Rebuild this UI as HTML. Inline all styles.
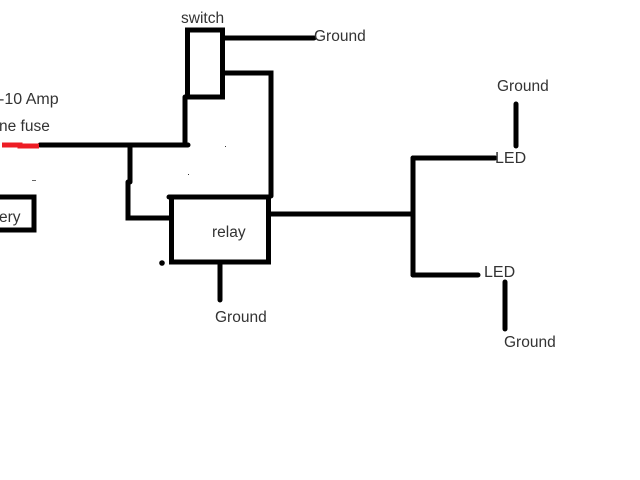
<!DOCTYPE html>
<html>
<head>
<meta charset="utf-8">
<style>
html,body{margin:0;padding:0;background:#fff;width:640px;height:480px;overflow:hidden}
svg{display:block;filter:blur(.25px)}
text{font-family:"Liberation Sans",sans-serif;font-size:15.5px;fill:#333}
</style>
</head>
<body>
<svg width="640" height="480" viewBox="0 0 640 480" xmlns="http://www.w3.org/2000/svg">
<g fill="none" stroke="#000" stroke-width="5" stroke-linecap="round" stroke-linejoin="miter">
<rect x="187.500" y="30" width="35" height="67"/>
<rect x="171.500" y="197" width="97" height="65"/>
<path d="M40 145H188"/>
<path d="M185 97V145"/>
<path d="M130 145V182M128 182V218H171"/>
<path d="M224 38H314"/>
<path d="M224 73H271V196"/>
<path d="M169 197H172"/>
<path d="M269 214H413"/>
<path d="M220 262V300"/>
<path d="M413 158V275"/>
<path d="M413 158H495"/>
<path d="M413 275H478"/>
<path d="M516 104V146"/>
<path d="M505 282V329"/>
<path d="M-5 197H34V230H-5"/>
<path d="M2 145H20V146H39" stroke="#ed1c24" stroke-linecap="butt"/>
</g>
<circle cx="162" cy="263" r="2.800" fill="#000"/>
<rect x="32" y="180" width="4" height="1" fill="#666"/>
<rect x="225" y="146" width="1" height="1" fill="#333"/>
<rect x="188" y="174" width="1" height="1" fill="#333"/>
<text x="-1" y="104" style="font-size:16px">-10 Amp</text>
<text x="-1" y="131" style="font-size:15.5px">ne fuse</text>
<text x="-1" y="222">ery</text>
<text x="181" y="23">switch</text>
<text x="314" y="41">Ground</text>
<text x="212" y="237">relay</text>
<text x="215" y="322">Ground</text>
<text x="497" y="91">Ground</text>
<text x="495" y="163" style="font-size:16px">LED</text>
<text x="484" y="277" style="font-size:16px">LED</text>
<text x="504" y="347">Ground</text>
</svg>
</body>
</html>
